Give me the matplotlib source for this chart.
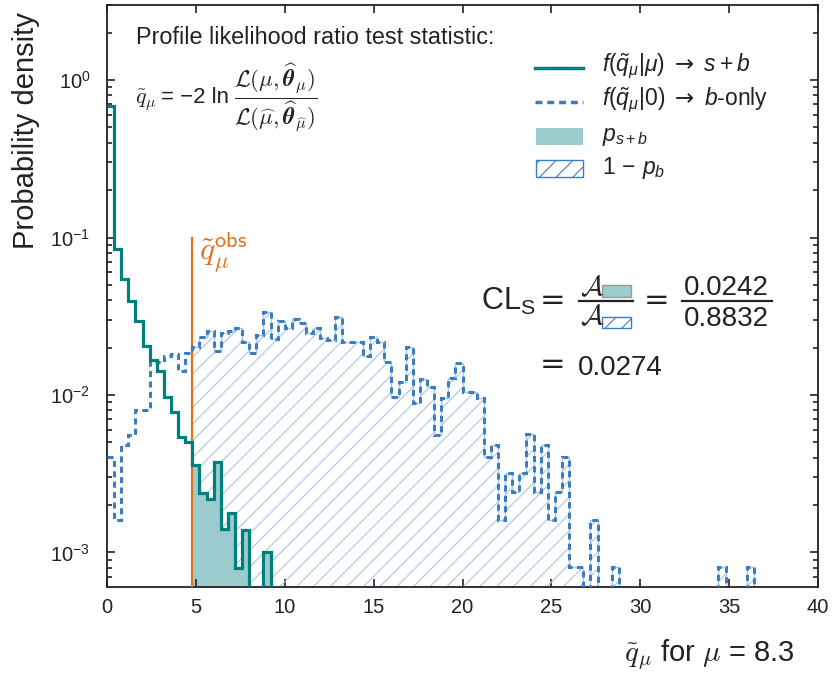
import numpy as np
import matplotlib
matplotlib.use("Agg")
import matplotlib.pyplot as plt
from matplotlib.lines import Line2D
from matplotlib.patches import Rectangle

plt.rcParams["font.family"] = ["Liberation Sans", "DejaVu Sans"]
plt.rcParams["mathtext.fontset"] = "custom"
plt.rcParams["mathtext.rm"] = "Liberation Sans"
plt.rcParams["mathtext.it"] = "Liberation Sans:italic"
plt.rcParams["mathtext.bf"] = "Liberation Sans:bold"
plt.rcParams["mathtext.sf"] = "DejaVu Sans"
plt.rcParams["hatch.linewidth"] = 0.8

# binning of the toy test statistic
bin_width = 0.4
n_bins = 100
q_obs = 4.78
mu_test = 8.3

# f(q~|mu) -> s+b, probability density per bin (later bins empty)
f_sb = [0.687, 0.084, 0.0544, 0.0395, 0.0296, 0.0204, 0.0166, 0.0142, 0.0097, 0.0078,
        0.0054, 0.0050, 0.0036, 0.0024, 0.00217, 0.00377, 0.0014, 0.00178, 0.0008, 0.00139,
        0.0, 0.0, 0.001]

# f(q~|0) -> b-only
f_b = [0.00404, 0.0016, 0.00481, 0.00557, 0.0080, 0.0080, 0.0165, 0.0162, 0.0178, 0.0182,
       0.0143, 0.0186, 0.0201, 0.0232, 0.0256, 0.0191, 0.0247, 0.0255, 0.0265, 0.0217,
       0.0186, 0.0240, 0.0335, 0.0226, 0.0296, 0.0265, 0.0304, 0.0285, 0.0249, 0.0265,
       0.0229, 0.0223, 0.0314, 0.0217, 0.0217, 0.0217, 0.0177, 0.0234, 0.0217, 0.0162,
       0.00967, 0.0121, 0.0201, 0.00885, 0.0127, 0.0112, 0.00561, 0.00957, 0.0128, 0.0160,
       0.0104, 0.0104, 0.00957, 0.00404, 0.00482, 0.00161, 0.00321, 0.00241, 0.00321, 0.00565,
       0.00241, 0.00482, 0.00161, 0.00241, 0.00404, 0.00081, 0.00081, 0.0, 0.00161, 0.0,
       0.0, 0.00081, 0.0, 0.0, 0.0, 0.0, 0.0, 0.0, 0.0, 0.0,
       0.0, 0.0, 0.0, 0.0, 0.0, 0.0, 0.00081, 0.0, 0.0, 0.0,
       0.00081]

# integrals quoted in the CLs box
area_sb = 0.0242
area_b = 0.8832
cls_value = 0.0274

teal = "#00807d"
teal_fill = "#99cccb"
blue = "#3b7dbf"
hatch_blue = "#a9c6e4"
orange = "#e2701d"
dark = "#222222"

W, H = 835, 673
floor = 1e-6


def fx(px):
    return px / W


def fy(py):
    return 1 - py / H


def padded(v):
    out = np.zeros(n_bins)
    out[:len(v)] = v
    return out


edges = np.arange(n_bins + 1) * bin_width
sb = padded(f_sb)
bo = padded(f_b)


def tail(vals, x0):
    # step outline of a histogram from x0 to the end of the range
    i = np.searchsorted(edges, x0, side="right") - 1
    xs = np.concatenate([[x0], edges[i + 1:]])
    ys = np.concatenate([vals[i:], [vals[-1]]])
    return xs, np.where(ys > 0, ys, floor)


fig = plt.figure(figsize=(8.35, 6.73), dpi=100)
ax = fig.add_axes([fx(107), fy(586.7), (818 - 107) / W, (586.7 - 4.7) / H])
ax.set_yscale("log")

xs, ys = tail(sb, q_obs)
ax.fill_between(xs, ys, floor, step="post", facecolor=teal_fill, edgecolor="none", zorder=1)
xs, ys = tail(bo, q_obs)
ax.fill_between(xs, ys, floor, step="post", facecolor="none", edgecolor=hatch_blue,
                hatch="//", linewidth=1.0, zorder=2)

ax.plot([q_obs, q_obs], [floor, 0.1], color=orange, lw=1.6, zorder=3)
ax.stairs(np.where(bo > 0, bo, floor), edges, baseline=None, color=blue, lw=2.2,
          linestyle=(0, (2.0, 1.4)), zorder=4)
ax.stairs(np.where(sb > 0, sb, floor), edges, baseline=None, color=teal, lw=2.3, zorder=5)

ax.text(5.2, 0.112, r"$\tilde{q}_{\mu}^{\mathsf{obs}}$", color=orange, fontsize=23,
        math_fontfamily="cm", ha="left", va="top")

ax.set_xlim(0, 40)
ax.set_ylim(6.06e-4, 3.01)
ax.set_xticks(range(0, 41, 5))
ax.tick_params(which="both", direction="in", top=True, right=True, colors=dark,
               labelsize=14.5, width=1.2)
ax.tick_params(which="major", length=6)
ax.tick_params(which="minor", length=3.3)
ax.tick_params(axis="x", pad=8)
ax.tick_params(axis="y", pad=12)
for s in ax.spines.values():
    s.set_color(dark)
    s.set_linewidth(1.3)

fig.text(fx(26), fy(131), "Probability density", rotation=90, fontsize=21,
         ha="center", va="center", color=dark)
fig.text(fx(795), fy(655), r"$\tilde{q}_{\mu}$ for $\mu$ = %.1f" % mu_test, fontsize=21,
         math_fontfamily="cm", ha="right", va="center", color=dark)

fig.text(fx(136), fy(38), "Profile likelihood ratio test statistic:", fontsize=16.8,
         ha="left", va="center", color=dark)
# q~ = -2 ln L(mu, theta^^) / L(mu^, theta^)
fig.text(fx(135), fy(103), r"$\tilde{q}_{\mu}$", fontsize=16, math_fontfamily="cm",
         ha="left", va="baseline", color=dark)
fig.text(fx(161), fy(103), "= \u22122 ln", fontsize=16, ha="left", va="baseline", color=dark)
fig.text(fx(234), fy(97),
         r"$\dfrac{\mathcal{L}(\mu,\widehat{\boldsymbol{\theta}}_{\mu})}"
         r"{\mathcal{L}(\widehat{\mu},\widehat{\boldsymbol{\theta}}_{\widehat{\mu}})}$",
         fontsize=16.5, math_fontfamily="cm", ha="left", va="center", color=dark)

# legend drawn by hand
fig.add_artist(Line2D([fx(535), fx(583)], [fy(67.7), fy(67.7)], color=teal, lw=2.5))
fig.add_artist(Line2D([fx(535), fx(583)], [fy(101.7), fy(101.7)], color=blue, lw=2.5,
                      linestyle=(0, (2.0, 1.4))))
fig.add_artist(Rectangle((fx(536), fy(145)), 47 / W, 17 / H, facecolor=teal_fill,
                         edgecolor="none", transform=fig.transFigure))
fig.add_artist(Rectangle((fx(536), fy(176.7)), 47 / W, 16.7 / H, facecolor="none",
                         edgecolor=blue, hatch="//", lw=1.0, transform=fig.transFigure))
leg_labels = [r"$f(\tilde{q}_{\mu}|\mu)\ \mathsf{\rightarrow}\ s + b$",
              r"$f(\tilde{q}_{\mu}|0)\ \mathsf{\rightarrow}\ b$-only",
              r"$p_{s+b}$",
              r"$1\,-\,p_{b}$"]
for lab, yy in zip(leg_labels, [66.5, 100.5, 137, 168.3]):
    fig.text(fx(601.7), fy(yy), lab, fontsize=16.5, ha="left", va="center", color=dark)

# CLs = A(s+b) / A(b)
eq = dict(fontsize=22, family="DejaVu Sans", ha="center", va="baseline", color=dark)
fig.text(fx(481), fy(310), r"CL$_\mathrm{S}$", fontsize=22, ha="left", va="baseline", color=dark)
fig.text(fx(552.5), fy(309), "=", **eq)
fig.text(fx(580), fy(295), r"$\mathcal{A}$", fontsize=20, math_fontfamily="cm",
         ha="left", va="baseline", color=dark)
fig.text(fx(580), fy(324), r"$\mathcal{A}$", fontsize=20, math_fontfamily="cm",
         ha="left", va="baseline", color=dark)
fig.add_artist(Rectangle((fx(601.7), fy(296.7)), 29 / W, 11.7 / H, facecolor=teal_fill,
                         edgecolor="#999999", lw=1.0, transform=fig.transFigure))
fig.add_artist(Rectangle((fx(602.3), fy(328.3)), 28.4 / W, 11.6 / H, facecolor="none",
                         edgecolor=blue, hatch="//", lw=1.0, transform=fig.transFigure))
fig.add_artist(Line2D([fx(579), fx(632.7)], [fy(300.7), fy(300.7)], color=dark, lw=1.6))
fig.text(fx(656.7), fy(309), "=", **eq)
fig.text(fx(726.7), fy(295), "%.4f" % area_sb, fontsize=20, ha="center", va="baseline", color=dark)
fig.text(fx(726.7), fy(326), "%.4f" % area_b, fontsize=20, ha="center", va="baseline", color=dark)
fig.add_artist(Line2D([fx(681.7), fx(771.7)], [fy(300.7), fy(300.7)], color=dark, lw=1.6))
fig.text(fx(553), fy(373), "=", **eq)
fig.text(fx(578), fy(375), "%.4f" % cls_value, fontsize=20, ha="left", va="baseline", color=dark)

fig.savefig("out.png", dpi=100)
